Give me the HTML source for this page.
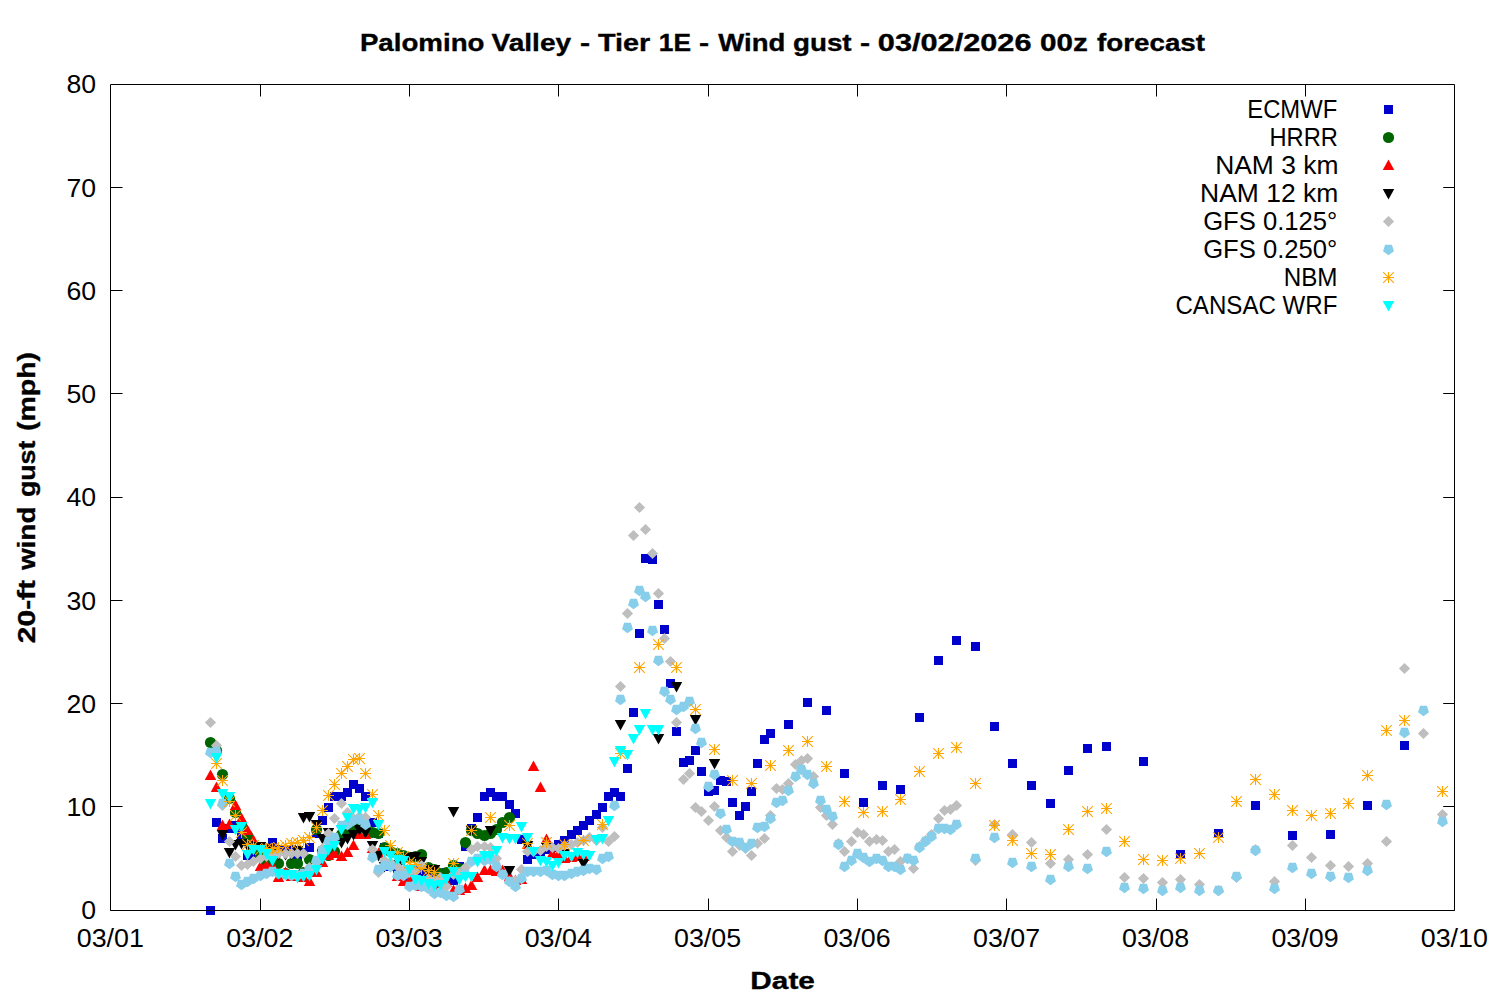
<!DOCTYPE html>
<html><head><meta charset="utf-8"><title>Wind gust forecast</title>
<style>html,body{margin:0;padding:0;background:#fff}svg{display:block}text{font-family:"Liberation Sans",sans-serif;fill:#000}</style></head><body>
<svg width="1500" height="1000" viewBox="0 0 1500 1000">
<rect width="1500" height="1000" fill="#fff"/>
<defs>
<rect id="sq" x="-4.5" y="-4.5" width="9" height="9"/>
<circle id="ci" r="5.6"/>
<polygon id="up" points="0,-5.95 5.75,4.45 -5.75,4.45"/>
<polygon id="dn" points="0,5.9 5.75,-4.5 -5.75,-4.5"/>
<polygon id="di" points="0,-5.6 5.6,0 0,5.6 -5.6,0"/>
<polygon id="pe" points="0.00,5.75 -5.47,1.78 -3.38,-4.65 3.38,-4.65 5.47,1.78"/>
<path id="st" d="M-5.5,0H5.5M0,-5.5V5.5M-5.3,-5.3L5.3,5.3M-5.3,5.3L5.3,-5.3" fill="none" stroke-width="1.08"/>
</defs>
<g fill="#0000cd">
<use href="#sq" x="210.5" y="910.5"/>
<use href="#sq" x="216.5" y="822.5"/>
<use href="#sq" x="222.5" y="838.5"/>
<use href="#sq" x="229.5" y="828.5"/>
<use href="#sq" x="235.5" y="825.5"/>
<use href="#sq" x="241.5" y="834.5"/>
<use href="#sq" x="247.5" y="855.5"/>
<use href="#sq" x="253.5" y="852.5"/>
<use href="#sq" x="260.5" y="850.5"/>
<use href="#sq" x="266.5" y="848.5"/>
<use href="#sq" x="272.5" y="842.5"/>
<use href="#sq" x="278.5" y="849.5"/>
<use href="#sq" x="285.5" y="849.5"/>
<use href="#sq" x="291.5" y="849.5"/>
<use href="#sq" x="297.5" y="858.5"/>
<use href="#sq" x="303.5" y="852.5"/>
<use href="#sq" x="309.5" y="847.5"/>
<use href="#sq" x="316.5" y="833.5"/>
<use href="#sq" x="322.5" y="820.5"/>
<use href="#sq" x="328.5" y="807.5"/>
<use href="#sq" x="334.5" y="796.5"/>
<use href="#sq" x="341.5" y="796.5"/>
<use href="#sq" x="347.5" y="792.5"/>
<use href="#sq" x="353.5" y="784.5"/>
<use href="#sq" x="359.5" y="788.5"/>
<use href="#sq" x="365.5" y="796.5"/>
<use href="#sq" x="372.5" y="822.5"/>
<use href="#sq" x="378.5" y="833.5"/>
<use href="#sq" x="384.5" y="847.5"/>
<use href="#sq" x="390.5" y="866.5"/>
<use href="#sq" x="397.5" y="868.5"/>
<use href="#sq" x="403.5" y="876.5"/>
<use href="#sq" x="409.5" y="879.5"/>
<use href="#sq" x="415.5" y="870.5"/>
<use href="#sq" x="421.5" y="872.5"/>
<use href="#sq" x="428.5" y="874.5"/>
<use href="#sq" x="434.5" y="876.5"/>
<use href="#sq" x="440.5" y="874.5"/>
<use href="#sq" x="446.5" y="872.5"/>
<use href="#sq" x="453.5" y="880.5"/>
<use href="#sq" x="459.5" y="866.5"/>
<use href="#sq" x="465.5" y="846.5"/>
<use href="#sq" x="471.5" y="828.5"/>
<use href="#sq" x="477.5" y="817.5"/>
<use href="#sq" x="484.5" y="796.5"/>
<use href="#sq" x="490.5" y="792.5"/>
<use href="#sq" x="496.5" y="796.5"/>
<use href="#sq" x="502.5" y="796.5"/>
<use href="#sq" x="509.5" y="804.5"/>
<use href="#sq" x="515.5" y="813.5"/>
<use href="#sq" x="521.5" y="839.5"/>
<use href="#sq" x="527.5" y="859.5"/>
<use href="#sq" x="533.5" y="854.5"/>
<use href="#sq" x="540.5" y="851.5"/>
<use href="#sq" x="546.5" y="849.5"/>
<use href="#sq" x="552.5" y="847.5"/>
<use href="#sq" x="558.5" y="844.5"/>
<use href="#sq" x="564.5" y="840.5"/>
<use href="#sq" x="571.5" y="834.5"/>
<use href="#sq" x="577.5" y="830.5"/>
<use href="#sq" x="583.5" y="825.5"/>
<use href="#sq" x="589.5" y="820.5"/>
<use href="#sq" x="596.5" y="814.5"/>
<use href="#sq" x="602.5" y="807.5"/>
<use href="#sq" x="608.5" y="796.5"/>
<use href="#sq" x="614.5" y="792.5"/>
<use href="#sq" x="620.5" y="796.5"/>
<use href="#sq" x="627.5" y="768.5"/>
<use href="#sq" x="633.5" y="712.5"/>
<use href="#sq" x="639.5" y="633.5"/>
<use href="#sq" x="645.5" y="558.5"/>
<use href="#sq" x="652.5" y="559.5"/>
<use href="#sq" x="658.5" y="604.5"/>
<use href="#sq" x="664.5" y="629.5"/>
<use href="#sq" x="670.5" y="683.5"/>
<use href="#sq" x="676.5" y="731.5"/>
<use href="#sq" x="683.5" y="762.5"/>
<use href="#sq" x="689.5" y="760.5"/>
<use href="#sq" x="695.5" y="750.5"/>
<use href="#sq" x="701.5" y="771.5"/>
<use href="#sq" x="708.5" y="791.5"/>
<use href="#sq" x="714.5" y="790.5"/>
<use href="#sq" x="720.5" y="780.5"/>
<use href="#sq" x="726.5" y="781.5"/>
<use href="#sq" x="732.5" y="802.5"/>
<use href="#sq" x="739.5" y="815.5"/>
<use href="#sq" x="745.5" y="806.5"/>
<use href="#sq" x="751.5" y="791.5"/>
<use href="#sq" x="757.5" y="763.5"/>
<use href="#sq" x="764.5" y="739.5"/>
<use href="#sq" x="770.5" y="733.5"/>
<use href="#sq" x="788.5" y="724.5"/>
<use href="#sq" x="807.5" y="702.5"/>
<use href="#sq" x="826.5" y="710.5"/>
<use href="#sq" x="844.5" y="773.5"/>
<use href="#sq" x="863.5" y="802.5"/>
<use href="#sq" x="882.5" y="785.5"/>
<use href="#sq" x="900.5" y="789.5"/>
<use href="#sq" x="919.5" y="717.5"/>
<use href="#sq" x="938.5" y="660.5"/>
<use href="#sq" x="956.5" y="640.5"/>
<use href="#sq" x="975.5" y="646.5"/>
<use href="#sq" x="994.5" y="726.5"/>
<use href="#sq" x="1012.5" y="763.5"/>
<use href="#sq" x="1031.5" y="785.5"/>
<use href="#sq" x="1050.5" y="803.5"/>
<use href="#sq" x="1068.5" y="770.5"/>
<use href="#sq" x="1087.5" y="748.5"/>
<use href="#sq" x="1106.5" y="746.5"/>
<use href="#sq" x="1143.5" y="761.5"/>
<use href="#sq" x="1180.5" y="854.5"/>
<use href="#sq" x="1218.5" y="833.5"/>
<use href="#sq" x="1255.5" y="805.5"/>
<use href="#sq" x="1292.5" y="835.5"/>
<use href="#sq" x="1330.5" y="834.5"/>
<use href="#sq" x="1367.5" y="805.5"/>
<use href="#sq" x="1404.5" y="745.5"/>
</g>
<g fill="#006400">
<use href="#ci" x="210.5" y="742.5"/>
<use href="#ci" x="216.5" y="750.5"/>
<use href="#ci" x="222.5" y="774.5"/>
<use href="#ci" x="229.5" y="798.5"/>
<use href="#ci" x="235.5" y="812.5"/>
<use href="#ci" x="241.5" y="824.5"/>
<use href="#ci" x="247.5" y="835.5"/>
<use href="#ci" x="253.5" y="848.5"/>
<use href="#ci" x="260.5" y="856.5"/>
<use href="#ci" x="266.5" y="862.5"/>
<use href="#ci" x="272.5" y="866.5"/>
<use href="#ci" x="278.5" y="863.5"/>
<use href="#ci" x="285.5" y="873.5"/>
<use href="#ci" x="291.5" y="863.5"/>
<use href="#ci" x="297.5" y="863.5"/>
<use href="#ci" x="303.5" y="872.5"/>
<use href="#ci" x="309.5" y="859.5"/>
<use href="#ci" x="316.5" y="829.5"/>
<use href="#ci" x="322.5" y="850.5"/>
<use href="#ci" x="328.5" y="855.5"/>
<use href="#ci" x="334.5" y="851.5"/>
<use href="#ci" x="341.5" y="834.5"/>
<use href="#ci" x="347.5" y="833.5"/>
<use href="#ci" x="353.5" y="826.5"/>
<use href="#ci" x="359.5" y="826.5"/>
<use href="#ci" x="365.5" y="828.5"/>
<use href="#ci" x="372.5" y="832.5"/>
<use href="#ci" x="378.5" y="833.5"/>
<use href="#ci" x="384.5" y="847.5"/>
<use href="#ci" x="390.5" y="851.5"/>
<use href="#ci" x="397.5" y="853.5"/>
<use href="#ci" x="403.5" y="855.5"/>
<use href="#ci" x="409.5" y="857.5"/>
<use href="#ci" x="415.5" y="856.5"/>
<use href="#ci" x="421.5" y="854.5"/>
<use href="#ci" x="428.5" y="867.5"/>
<use href="#ci" x="434.5" y="869.5"/>
<use href="#ci" x="440.5" y="873.5"/>
<use href="#ci" x="446.5" y="872.5"/>
<use href="#ci" x="453.5" y="865.5"/>
<use href="#ci" x="459.5" y="868.5"/>
<use href="#ci" x="465.5" y="842.5"/>
<use href="#ci" x="471.5" y="830.5"/>
<use href="#ci" x="477.5" y="833.5"/>
<use href="#ci" x="484.5" y="835.5"/>
<use href="#ci" x="490.5" y="833.5"/>
<use href="#ci" x="496.5" y="829.5"/>
<use href="#ci" x="502.5" y="822.5"/>
<use href="#ci" x="509.5" y="817.5"/>
</g>
<g fill="#ff0000">
<use href="#up" x="210.5" y="775.5"/>
<use href="#up" x="216.5" y="787.5"/>
<use href="#up" x="222.5" y="825.5"/>
<use href="#up" x="229.5" y="824.5"/>
<use href="#up" x="235.5" y="805.5"/>
<use href="#up" x="241.5" y="818.5"/>
<use href="#up" x="247.5" y="830.5"/>
<use href="#up" x="253.5" y="840.5"/>
<use href="#up" x="260.5" y="866.5"/>
<use href="#up" x="266.5" y="865.5"/>
<use href="#up" x="272.5" y="866.5"/>
<use href="#up" x="278.5" y="877.5"/>
<use href="#up" x="285.5" y="872.5"/>
<use href="#up" x="291.5" y="876.5"/>
<use href="#up" x="297.5" y="876.5"/>
<use href="#up" x="303.5" y="877.5"/>
<use href="#up" x="309.5" y="881.5"/>
<use href="#up" x="316.5" y="872.5"/>
<use href="#up" x="322.5" y="862.5"/>
<use href="#up" x="328.5" y="855.5"/>
<use href="#up" x="334.5" y="853.5"/>
<use href="#up" x="341.5" y="856.5"/>
<use href="#up" x="347.5" y="852.5"/>
<use href="#up" x="353.5" y="845.5"/>
<use href="#up" x="359.5" y="834.5"/>
<use href="#up" x="365.5" y="834.5"/>
<use href="#up" x="372.5" y="848.5"/>
<use href="#up" x="378.5" y="853.5"/>
<use href="#up" x="384.5" y="862.5"/>
<use href="#up" x="390.5" y="864.5"/>
<use href="#up" x="397.5" y="876.5"/>
<use href="#up" x="403.5" y="881.5"/>
<use href="#up" x="409.5" y="880.5"/>
<use href="#up" x="415.5" y="884.5"/>
<use href="#up" x="421.5" y="886.5"/>
<use href="#up" x="428.5" y="884.5"/>
<use href="#up" x="434.5" y="886.5"/>
<use href="#up" x="440.5" y="884.5"/>
<use href="#up" x="446.5" y="882.5"/>
<use href="#up" x="453.5" y="890.5"/>
<use href="#up" x="459.5" y="890.5"/>
<use href="#up" x="465.5" y="888.5"/>
<use href="#up" x="471.5" y="885.5"/>
<use href="#up" x="477.5" y="877.5"/>
<use href="#up" x="484.5" y="870.5"/>
<use href="#up" x="490.5" y="870.5"/>
<use href="#up" x="496.5" y="871.5"/>
<use href="#up" x="502.5" y="870.5"/>
<use href="#up" x="509.5" y="876.5"/>
<use href="#up" x="515.5" y="880.5"/>
<use href="#up" x="521.5" y="879.5"/>
<use href="#up" x="527.5" y="844.5"/>
<use href="#up" x="533.5" y="766.5"/>
<use href="#up" x="540.5" y="787.5"/>
<use href="#up" x="546.5" y="839.5"/>
<use href="#up" x="552.5" y="853.5"/>
<use href="#up" x="558.5" y="854.5"/>
<use href="#up" x="564.5" y="858.5"/>
<use href="#up" x="571.5" y="857.5"/>
<use href="#up" x="577.5" y="856.5"/>
<use href="#up" x="583.5" y="856.5"/>
</g>
<g fill="#000000">
<use href="#dn" x="216.5" y="756.5"/>
<use href="#dn" x="222.5" y="834.5"/>
<use href="#dn" x="229.5" y="852.5"/>
<use href="#dn" x="235.5" y="844.5"/>
<use href="#dn" x="241.5" y="843.5"/>
<use href="#dn" x="247.5" y="845.5"/>
<use href="#dn" x="253.5" y="846.5"/>
<use href="#dn" x="260.5" y="846.5"/>
<use href="#dn" x="266.5" y="848.5"/>
<use href="#dn" x="272.5" y="851.5"/>
<use href="#dn" x="278.5" y="854.5"/>
<use href="#dn" x="285.5" y="854.5"/>
<use href="#dn" x="291.5" y="854.5"/>
<use href="#dn" x="297.5" y="850.5"/>
<use href="#dn" x="303.5" y="817.5"/>
<use href="#dn" x="309.5" y="816.5"/>
<use href="#dn" x="316.5" y="824.5"/>
<use href="#dn" x="322.5" y="838.5"/>
<use href="#dn" x="328.5" y="832.5"/>
<use href="#dn" x="334.5" y="842.5"/>
<use href="#dn" x="341.5" y="842.5"/>
<use href="#dn" x="347.5" y="838.5"/>
<use href="#dn" x="353.5" y="834.5"/>
<use href="#dn" x="359.5" y="829.5"/>
<use href="#dn" x="365.5" y="832.5"/>
<use href="#dn" x="372.5" y="845.5"/>
<use href="#dn" x="378.5" y="855.5"/>
<use href="#dn" x="384.5" y="866.5"/>
<use href="#dn" x="390.5" y="866.5"/>
<use href="#dn" x="397.5" y="864.5"/>
<use href="#dn" x="403.5" y="860.5"/>
<use href="#dn" x="409.5" y="857.5"/>
<use href="#dn" x="415.5" y="856.5"/>
<use href="#dn" x="421.5" y="861.5"/>
<use href="#dn" x="428.5" y="869.5"/>
<use href="#dn" x="434.5" y="869.5"/>
<use href="#dn" x="453.5" y="811.5"/>
<use href="#dn" x="471.5" y="830.5"/>
<use href="#dn" x="490.5" y="830.5"/>
<use href="#dn" x="509.5" y="870.5"/>
<use href="#dn" x="527.5" y="845.5"/>
<use href="#dn" x="546.5" y="846.5"/>
<use href="#dn" x="564.5" y="853.5"/>
<use href="#dn" x="583.5" y="863.5"/>
<use href="#dn" x="620.5" y="724.5"/>
<use href="#dn" x="658.5" y="738.5"/>
<use href="#dn" x="676.5" y="686.5"/>
<use href="#dn" x="695.5" y="719.5"/>
<use href="#dn" x="714.5" y="763.5"/>
</g>
<g fill="#bebebe">
<use href="#di" x="210.5" y="722.5"/>
<use href="#di" x="216.5" y="745.5"/>
<use href="#di" x="222.5" y="805.5"/>
<use href="#di" x="229.5" y="841.5"/>
<use href="#di" x="235.5" y="856.5"/>
<use href="#di" x="241.5" y="865.5"/>
<use href="#di" x="247.5" y="864.5"/>
<use href="#di" x="253.5" y="861.5"/>
<use href="#di" x="260.5" y="858.5"/>
<use href="#di" x="266.5" y="856.5"/>
<use href="#di" x="272.5" y="853.5"/>
<use href="#di" x="278.5" y="853.5"/>
<use href="#di" x="285.5" y="853.5"/>
<use href="#di" x="291.5" y="853.5"/>
<use href="#di" x="297.5" y="853.5"/>
<use href="#di" x="303.5" y="853.5"/>
<use href="#di" x="309.5" y="867.5"/>
<use href="#di" x="316.5" y="862.5"/>
<use href="#di" x="322.5" y="848.5"/>
<use href="#di" x="328.5" y="833.5"/>
<use href="#di" x="334.5" y="818.5"/>
<use href="#di" x="341.5" y="803.5"/>
<use href="#di" x="347.5" y="812.5"/>
<use href="#di" x="353.5" y="818.5"/>
<use href="#di" x="359.5" y="816.5"/>
<use href="#di" x="365.5" y="817.5"/>
<use href="#di" x="372.5" y="849.5"/>
<use href="#di" x="378.5" y="872.5"/>
<use href="#di" x="384.5" y="860.5"/>
<use href="#di" x="390.5" y="862.5"/>
<use href="#di" x="397.5" y="866.5"/>
<use href="#di" x="403.5" y="870.5"/>
<use href="#di" x="409.5" y="872.5"/>
<use href="#di" x="415.5" y="871.5"/>
<use href="#di" x="421.5" y="865.5"/>
<use href="#di" x="428.5" y="878.5"/>
<use href="#di" x="434.5" y="880.5"/>
<use href="#di" x="440.5" y="877.5"/>
<use href="#di" x="446.5" y="886.5"/>
<use href="#di" x="453.5" y="874.5"/>
<use href="#di" x="459.5" y="872.5"/>
<use href="#di" x="465.5" y="867.5"/>
<use href="#di" x="471.5" y="849.5"/>
<use href="#di" x="477.5" y="846.5"/>
<use href="#di" x="484.5" y="846.5"/>
<use href="#di" x="490.5" y="847.5"/>
<use href="#di" x="496.5" y="858.5"/>
<use href="#di" x="502.5" y="874.5"/>
<use href="#di" x="509.5" y="881.5"/>
<use href="#di" x="515.5" y="880.5"/>
<use href="#di" x="521.5" y="869.5"/>
<use href="#di" x="527.5" y="851.5"/>
<use href="#di" x="533.5" y="851.5"/>
<use href="#di" x="540.5" y="850.5"/>
<use href="#di" x="546.5" y="846.5"/>
<use href="#di" x="552.5" y="847.5"/>
<use href="#di" x="558.5" y="848.5"/>
<use href="#di" x="564.5" y="845.5"/>
<use href="#di" x="571.5" y="844.5"/>
<use href="#di" x="577.5" y="842.5"/>
<use href="#di" x="583.5" y="840.5"/>
<use href="#di" x="589.5" y="837.5"/>
<use href="#di" x="596.5" y="840.5"/>
<use href="#di" x="602.5" y="827.5"/>
<use href="#di" x="608.5" y="841.5"/>
<use href="#di" x="614.5" y="836.5"/>
<use href="#di" x="620.5" y="686.5"/>
<use href="#di" x="627.5" y="613.5"/>
<use href="#di" x="633.5" y="535.5"/>
<use href="#di" x="639.5" y="507.5"/>
<use href="#di" x="645.5" y="529.5"/>
<use href="#di" x="652.5" y="553.5"/>
<use href="#di" x="658.5" y="593.5"/>
<use href="#di" x="664.5" y="638.5"/>
<use href="#di" x="670.5" y="661.5"/>
<use href="#di" x="676.5" y="722.5"/>
<use href="#di" x="683.5" y="779.5"/>
<use href="#di" x="689.5" y="773.5"/>
<use href="#di" x="695.5" y="807.5"/>
<use href="#di" x="701.5" y="811.5"/>
<use href="#di" x="708.5" y="820.5"/>
<use href="#di" x="714.5" y="806.5"/>
<use href="#di" x="720.5" y="830.5"/>
<use href="#di" x="726.5" y="837.5"/>
<use href="#di" x="732.5" y="851.5"/>
<use href="#di" x="739.5" y="845.5"/>
<use href="#di" x="745.5" y="848.5"/>
<use href="#di" x="751.5" y="855.5"/>
<use href="#di" x="757.5" y="843.5"/>
<use href="#di" x="764.5" y="838.5"/>
<use href="#di" x="770.5" y="815.5"/>
<use href="#di" x="776.5" y="788.5"/>
<use href="#di" x="782.5" y="789.5"/>
<use href="#di" x="788.5" y="783.5"/>
<use href="#di" x="795.5" y="764.5"/>
<use href="#di" x="801.5" y="760.5"/>
<use href="#di" x="807.5" y="758.5"/>
<use href="#di" x="813.5" y="776.5"/>
<use href="#di" x="820.5" y="807.5"/>
<use href="#di" x="826.5" y="815.5"/>
<use href="#di" x="832.5" y="824.5"/>
<use href="#di" x="838.5" y="843.5"/>
<use href="#di" x="844.5" y="851.5"/>
<use href="#di" x="851.5" y="841.5"/>
<use href="#di" x="857.5" y="832.5"/>
<use href="#di" x="863.5" y="834.5"/>
<use href="#di" x="869.5" y="841.5"/>
<use href="#di" x="876.5" y="839.5"/>
<use href="#di" x="882.5" y="840.5"/>
<use href="#di" x="888.5" y="851.5"/>
<use href="#di" x="894.5" y="849.5"/>
<use href="#di" x="900.5" y="861.5"/>
<use href="#di" x="907.5" y="858.5"/>
<use href="#di" x="913.5" y="868.5"/>
<use href="#di" x="919.5" y="846.5"/>
<use href="#di" x="925.5" y="840.5"/>
<use href="#di" x="931.5" y="834.5"/>
<use href="#di" x="938.5" y="818.5"/>
<use href="#di" x="944.5" y="810.5"/>
<use href="#di" x="950.5" y="809.5"/>
<use href="#di" x="956.5" y="805.5"/>
<use href="#di" x="975.5" y="860.5"/>
<use href="#di" x="994.5" y="824.5"/>
<use href="#di" x="1012.5" y="834.5"/>
<use href="#di" x="1031.5" y="842.5"/>
<use href="#di" x="1050.5" y="863.5"/>
<use href="#di" x="1068.5" y="859.5"/>
<use href="#di" x="1087.5" y="854.5"/>
<use href="#di" x="1106.5" y="829.5"/>
<use href="#di" x="1124.5" y="877.5"/>
<use href="#di" x="1143.5" y="878.5"/>
<use href="#di" x="1162.5" y="882.5"/>
<use href="#di" x="1180.5" y="879.5"/>
<use href="#di" x="1199.5" y="884.5"/>
<use href="#di" x="1218.5" y="890.5"/>
<use href="#di" x="1236.5" y="877.5"/>
<use href="#di" x="1255.5" y="849.5"/>
<use href="#di" x="1274.5" y="881.5"/>
<use href="#di" x="1292.5" y="845.5"/>
<use href="#di" x="1311.5" y="857.5"/>
<use href="#di" x="1330.5" y="865.5"/>
<use href="#di" x="1348.5" y="866.5"/>
<use href="#di" x="1367.5" y="863.5"/>
<use href="#di" x="1386.5" y="841.5"/>
<use href="#di" x="1404.5" y="668.5"/>
<use href="#di" x="1423.5" y="733.5"/>
<use href="#di" x="1442.5" y="814.5"/>
</g>
<g fill="#87ceeb">
<use href="#pe" x="210.5" y="752.5"/>
<use href="#pe" x="216.5" y="751.5"/>
<use href="#pe" x="222.5" y="803.5"/>
<use href="#pe" x="229.5" y="863.5"/>
<use href="#pe" x="235.5" y="876.5"/>
<use href="#pe" x="241.5" y="884.5"/>
<use href="#pe" x="247.5" y="881.5"/>
<use href="#pe" x="253.5" y="878.5"/>
<use href="#pe" x="260.5" y="875.5"/>
<use href="#pe" x="266.5" y="873.5"/>
<use href="#pe" x="272.5" y="871.5"/>
<use href="#pe" x="278.5" y="873.5"/>
<use href="#pe" x="285.5" y="874.5"/>
<use href="#pe" x="291.5" y="875.5"/>
<use href="#pe" x="297.5" y="875.5"/>
<use href="#pe" x="303.5" y="873.5"/>
<use href="#pe" x="309.5" y="869.5"/>
<use href="#pe" x="316.5" y="860.5"/>
<use href="#pe" x="322.5" y="851.5"/>
<use href="#pe" x="328.5" y="841.5"/>
<use href="#pe" x="334.5" y="837.5"/>
<use href="#pe" x="341.5" y="825.5"/>
<use href="#pe" x="347.5" y="824.5"/>
<use href="#pe" x="353.5" y="820.5"/>
<use href="#pe" x="359.5" y="819.5"/>
<use href="#pe" x="365.5" y="824.5"/>
<use href="#pe" x="372.5" y="857.5"/>
<use href="#pe" x="378.5" y="869.5"/>
<use href="#pe" x="384.5" y="865.5"/>
<use href="#pe" x="390.5" y="866.5"/>
<use href="#pe" x="397.5" y="875.5"/>
<use href="#pe" x="403.5" y="875.5"/>
<use href="#pe" x="409.5" y="886.5"/>
<use href="#pe" x="415.5" y="885.5"/>
<use href="#pe" x="421.5" y="886.5"/>
<use href="#pe" x="428.5" y="888.5"/>
<use href="#pe" x="434.5" y="893.5"/>
<use href="#pe" x="440.5" y="892.5"/>
<use href="#pe" x="446.5" y="895.5"/>
<use href="#pe" x="453.5" y="896.5"/>
<use href="#pe" x="459.5" y="889.5"/>
<use href="#pe" x="465.5" y="874.5"/>
<use href="#pe" x="471.5" y="861.5"/>
<use href="#pe" x="477.5" y="858.5"/>
<use href="#pe" x="484.5" y="860.5"/>
<use href="#pe" x="490.5" y="859.5"/>
<use href="#pe" x="496.5" y="866.5"/>
<use href="#pe" x="502.5" y="874.5"/>
<use href="#pe" x="509.5" y="881.5"/>
<use href="#pe" x="515.5" y="886.5"/>
<use href="#pe" x="521.5" y="878.5"/>
<use href="#pe" x="527.5" y="871.5"/>
<use href="#pe" x="533.5" y="871.5"/>
<use href="#pe" x="540.5" y="871.5"/>
<use href="#pe" x="546.5" y="870.5"/>
<use href="#pe" x="552.5" y="874.5"/>
<use href="#pe" x="558.5" y="875.5"/>
<use href="#pe" x="564.5" y="875.5"/>
<use href="#pe" x="571.5" y="873.5"/>
<use href="#pe" x="577.5" y="871.5"/>
<use href="#pe" x="583.5" y="870.5"/>
<use href="#pe" x="589.5" y="868.5"/>
<use href="#pe" x="596.5" y="869.5"/>
<use href="#pe" x="602.5" y="858.5"/>
<use href="#pe" x="608.5" y="856.5"/>
<use href="#pe" x="614.5" y="805.5"/>
<use href="#pe" x="620.5" y="699.5"/>
<use href="#pe" x="627.5" y="627.5"/>
<use href="#pe" x="633.5" y="603.5"/>
<use href="#pe" x="639.5" y="590.5"/>
<use href="#pe" x="645.5" y="596.5"/>
<use href="#pe" x="652.5" y="630.5"/>
<use href="#pe" x="658.5" y="660.5"/>
<use href="#pe" x="664.5" y="691.5"/>
<use href="#pe" x="670.5" y="699.5"/>
<use href="#pe" x="676.5" y="709.5"/>
<use href="#pe" x="683.5" y="706.5"/>
<use href="#pe" x="689.5" y="701.5"/>
<use href="#pe" x="695.5" y="728.5"/>
<use href="#pe" x="701.5" y="742.5"/>
<use href="#pe" x="708.5" y="786.5"/>
<use href="#pe" x="714.5" y="774.5"/>
<use href="#pe" x="720.5" y="813.5"/>
<use href="#pe" x="726.5" y="829.5"/>
<use href="#pe" x="732.5" y="841.5"/>
<use href="#pe" x="739.5" y="842.5"/>
<use href="#pe" x="745.5" y="847.5"/>
<use href="#pe" x="751.5" y="843.5"/>
<use href="#pe" x="757.5" y="827.5"/>
<use href="#pe" x="764.5" y="826.5"/>
<use href="#pe" x="770.5" y="818.5"/>
<use href="#pe" x="776.5" y="802.5"/>
<use href="#pe" x="782.5" y="800.5"/>
<use href="#pe" x="788.5" y="790.5"/>
<use href="#pe" x="795.5" y="776.5"/>
<use href="#pe" x="801.5" y="769.5"/>
<use href="#pe" x="807.5" y="774.5"/>
<use href="#pe" x="813.5" y="783.5"/>
<use href="#pe" x="820.5" y="800.5"/>
<use href="#pe" x="826.5" y="809.5"/>
<use href="#pe" x="832.5" y="816.5"/>
<use href="#pe" x="838.5" y="844.5"/>
<use href="#pe" x="844.5" y="866.5"/>
<use href="#pe" x="851.5" y="860.5"/>
<use href="#pe" x="857.5" y="853.5"/>
<use href="#pe" x="863.5" y="857.5"/>
<use href="#pe" x="869.5" y="861.5"/>
<use href="#pe" x="876.5" y="858.5"/>
<use href="#pe" x="882.5" y="860.5"/>
<use href="#pe" x="888.5" y="866.5"/>
<use href="#pe" x="894.5" y="866.5"/>
<use href="#pe" x="900.5" y="869.5"/>
<use href="#pe" x="907.5" y="858.5"/>
<use href="#pe" x="913.5" y="860.5"/>
<use href="#pe" x="919.5" y="847.5"/>
<use href="#pe" x="925.5" y="841.5"/>
<use href="#pe" x="931.5" y="836.5"/>
<use href="#pe" x="938.5" y="828.5"/>
<use href="#pe" x="944.5" y="828.5"/>
<use href="#pe" x="950.5" y="829.5"/>
<use href="#pe" x="956.5" y="824.5"/>
<use href="#pe" x="975.5" y="858.5"/>
<use href="#pe" x="994.5" y="837.5"/>
<use href="#pe" x="1012.5" y="862.5"/>
<use href="#pe" x="1031.5" y="866.5"/>
<use href="#pe" x="1050.5" y="879.5"/>
<use href="#pe" x="1068.5" y="866.5"/>
<use href="#pe" x="1087.5" y="868.5"/>
<use href="#pe" x="1106.5" y="851.5"/>
<use href="#pe" x="1124.5" y="887.5"/>
<use href="#pe" x="1143.5" y="888.5"/>
<use href="#pe" x="1162.5" y="890.5"/>
<use href="#pe" x="1180.5" y="887.5"/>
<use href="#pe" x="1199.5" y="890.5"/>
<use href="#pe" x="1218.5" y="890.5"/>
<use href="#pe" x="1236.5" y="876.5"/>
<use href="#pe" x="1255.5" y="850.5"/>
<use href="#pe" x="1274.5" y="888.5"/>
<use href="#pe" x="1292.5" y="867.5"/>
<use href="#pe" x="1311.5" y="873.5"/>
<use href="#pe" x="1330.5" y="876.5"/>
<use href="#pe" x="1348.5" y="877.5"/>
<use href="#pe" x="1367.5" y="870.5"/>
<use href="#pe" x="1386.5" y="804.5"/>
<use href="#pe" x="1404.5" y="732.5"/>
<use href="#pe" x="1423.5" y="710.5"/>
<use href="#pe" x="1442.5" y="821.5"/>
</g>
<g stroke="#ffa500">
<use href="#st" x="216.5" y="763.5"/>
<use href="#st" x="222.5" y="780.5"/>
<use href="#st" x="229.5" y="801.5"/>
<use href="#st" x="235.5" y="815.5"/>
<use href="#st" x="241.5" y="832.5"/>
<use href="#st" x="247.5" y="844.5"/>
<use href="#st" x="253.5" y="845.5"/>
<use href="#st" x="260.5" y="849.5"/>
<use href="#st" x="266.5" y="848.5"/>
<use href="#st" x="272.5" y="848.5"/>
<use href="#st" x="278.5" y="847.5"/>
<use href="#st" x="285.5" y="845.5"/>
<use href="#st" x="291.5" y="843.5"/>
<use href="#st" x="297.5" y="842.5"/>
<use href="#st" x="303.5" y="840.5"/>
<use href="#st" x="309.5" y="837.5"/>
<use href="#st" x="316.5" y="827.5"/>
<use href="#st" x="322.5" y="810.5"/>
<use href="#st" x="328.5" y="795.5"/>
<use href="#st" x="334.5" y="784.5"/>
<use href="#st" x="341.5" y="773.5"/>
<use href="#st" x="347.5" y="766.5"/>
<use href="#st" x="353.5" y="759.5"/>
<use href="#st" x="359.5" y="758.5"/>
<use href="#st" x="365.5" y="773.5"/>
<use href="#st" x="372.5" y="794.5"/>
<use href="#st" x="378.5" y="815.5"/>
<use href="#st" x="384.5" y="830.5"/>
<use href="#st" x="390.5" y="845.5"/>
<use href="#st" x="397.5" y="852.5"/>
<use href="#st" x="403.5" y="856.5"/>
<use href="#st" x="409.5" y="862.5"/>
<use href="#st" x="415.5" y="864.5"/>
<use href="#st" x="421.5" y="868.5"/>
<use href="#st" x="428.5" y="870.5"/>
<use href="#st" x="434.5" y="872.5"/>
<use href="#st" x="453.5" y="863.5"/>
<use href="#st" x="471.5" y="830.5"/>
<use href="#st" x="490.5" y="817.5"/>
<use href="#st" x="509.5" y="825.5"/>
<use href="#st" x="527.5" y="843.5"/>
<use href="#st" x="546.5" y="842.5"/>
<use href="#st" x="564.5" y="844.5"/>
<use href="#st" x="583.5" y="840.5"/>
<use href="#st" x="602.5" y="824.5"/>
<use href="#st" x="620.5" y="753.5"/>
<use href="#st" x="639.5" y="667.5"/>
<use href="#st" x="658.5" y="644.5"/>
<use href="#st" x="676.5" y="667.5"/>
<use href="#st" x="695.5" y="709.5"/>
<use href="#st" x="714.5" y="749.5"/>
<use href="#st" x="732.5" y="780.5"/>
<use href="#st" x="751.5" y="783.5"/>
<use href="#st" x="770.5" y="765.5"/>
<use href="#st" x="788.5" y="750.5"/>
<use href="#st" x="807.5" y="741.5"/>
<use href="#st" x="826.5" y="766.5"/>
<use href="#st" x="844.5" y="801.5"/>
<use href="#st" x="863.5" y="812.5"/>
<use href="#st" x="882.5" y="811.5"/>
<use href="#st" x="900.5" y="799.5"/>
<use href="#st" x="919.5" y="771.5"/>
<use href="#st" x="938.5" y="753.5"/>
<use href="#st" x="956.5" y="747.5"/>
<use href="#st" x="975.5" y="783.5"/>
<use href="#st" x="994.5" y="825.5"/>
<use href="#st" x="1012.5" y="840.5"/>
<use href="#st" x="1031.5" y="853.5"/>
<use href="#st" x="1050.5" y="854.5"/>
<use href="#st" x="1068.5" y="829.5"/>
<use href="#st" x="1087.5" y="811.5"/>
<use href="#st" x="1106.5" y="808.5"/>
<use href="#st" x="1124.5" y="841.5"/>
<use href="#st" x="1143.5" y="859.5"/>
<use href="#st" x="1162.5" y="860.5"/>
<use href="#st" x="1180.5" y="858.5"/>
<use href="#st" x="1199.5" y="853.5"/>
<use href="#st" x="1218.5" y="837.5"/>
<use href="#st" x="1236.5" y="801.5"/>
<use href="#st" x="1255.5" y="779.5"/>
<use href="#st" x="1274.5" y="794.5"/>
<use href="#st" x="1292.5" y="810.5"/>
<use href="#st" x="1311.5" y="815.5"/>
<use href="#st" x="1330.5" y="813.5"/>
<use href="#st" x="1348.5" y="803.5"/>
<use href="#st" x="1367.5" y="775.5"/>
<use href="#st" x="1386.5" y="730.5"/>
<use href="#st" x="1404.5" y="720.5"/>
<use href="#st" x="1442.5" y="791.5"/>
</g>
<g fill="#00ffff">
<use href="#dn" x="210.5" y="803.5"/>
<use href="#dn" x="216.5" y="757.5"/>
<use href="#dn" x="222.5" y="793.5"/>
<use href="#dn" x="229.5" y="796.5"/>
<use href="#dn" x="235.5" y="829.5"/>
<use href="#dn" x="241.5" y="826.5"/>
<use href="#dn" x="247.5" y="854.5"/>
<use href="#dn" x="253.5" y="849.5"/>
<use href="#dn" x="260.5" y="849.5"/>
<use href="#dn" x="266.5" y="853.5"/>
<use href="#dn" x="272.5" y="860.5"/>
<use href="#dn" x="278.5" y="873.5"/>
<use href="#dn" x="285.5" y="874.5"/>
<use href="#dn" x="291.5" y="874.5"/>
<use href="#dn" x="297.5" y="877.5"/>
<use href="#dn" x="303.5" y="876.5"/>
<use href="#dn" x="309.5" y="875.5"/>
<use href="#dn" x="316.5" y="869.5"/>
<use href="#dn" x="322.5" y="858.5"/>
<use href="#dn" x="328.5" y="849.5"/>
<use href="#dn" x="334.5" y="845.5"/>
<use href="#dn" x="341.5" y="829.5"/>
<use href="#dn" x="347.5" y="817.5"/>
<use href="#dn" x="353.5" y="808.5"/>
<use href="#dn" x="359.5" y="809.5"/>
<use href="#dn" x="365.5" y="807.5"/>
<use href="#dn" x="372.5" y="802.5"/>
<use href="#dn" x="378.5" y="824.5"/>
<use href="#dn" x="384.5" y="851.5"/>
<use href="#dn" x="390.5" y="855.5"/>
<use href="#dn" x="397.5" y="859.5"/>
<use href="#dn" x="403.5" y="860.5"/>
<use href="#dn" x="409.5" y="869.5"/>
<use href="#dn" x="415.5" y="879.5"/>
<use href="#dn" x="421.5" y="880.5"/>
<use href="#dn" x="428.5" y="883.5"/>
<use href="#dn" x="434.5" y="885.5"/>
<use href="#dn" x="440.5" y="884.5"/>
<use href="#dn" x="446.5" y="878.5"/>
<use href="#dn" x="453.5" y="871.5"/>
<use href="#dn" x="459.5" y="879.5"/>
<use href="#dn" x="465.5" y="876.5"/>
<use href="#dn" x="471.5" y="876.5"/>
<use href="#dn" x="477.5" y="861.5"/>
<use href="#dn" x="484.5" y="855.5"/>
<use href="#dn" x="490.5" y="855.5"/>
<use href="#dn" x="496.5" y="850.5"/>
<use href="#dn" x="502.5" y="837.5"/>
<use href="#dn" x="509.5" y="838.5"/>
<use href="#dn" x="515.5" y="838.5"/>
<use href="#dn" x="521.5" y="826.5"/>
<use href="#dn" x="527.5" y="837.5"/>
<use href="#dn" x="533.5" y="851.5"/>
<use href="#dn" x="540.5" y="860.5"/>
<use href="#dn" x="546.5" y="861.5"/>
<use href="#dn" x="552.5" y="865.5"/>
<use href="#dn" x="558.5" y="862.5"/>
<use href="#dn" x="564.5" y="855.5"/>
<use href="#dn" x="571.5" y="856.5"/>
<use href="#dn" x="577.5" y="852.5"/>
<use href="#dn" x="583.5" y="854.5"/>
<use href="#dn" x="589.5" y="855.5"/>
<use href="#dn" x="596.5" y="839.5"/>
<use href="#dn" x="602.5" y="838.5"/>
<use href="#dn" x="608.5" y="820.5"/>
<use href="#dn" x="614.5" y="761.5"/>
<use href="#dn" x="620.5" y="750.5"/>
<use href="#dn" x="627.5" y="754.5"/>
<use href="#dn" x="633.5" y="738.5"/>
<use href="#dn" x="639.5" y="729.5"/>
<use href="#dn" x="645.5" y="713.5"/>
<use href="#dn" x="652.5" y="729.5"/>
<use href="#dn" x="658.5" y="729.5"/>
</g>
<path d="M110.5,84.5H1454.5V910.5H110.5ZM260.5,910.5v-12M260.5,84.5v12M409.5,910.5v-12M409.5,84.5v12M558.5,910.5v-12M558.5,84.5v12M708.5,910.5v-12M708.5,84.5v12M857.5,910.5v-12M857.5,84.5v12M1006.5,910.5v-12M1006.5,84.5v12M1156.5,910.5v-12M1156.5,84.5v12M1305.5,910.5v-12M1305.5,84.5v12M110.5,910.5h12M1454.5,910.5h-11.3M110.5,806.5h12M1454.5,806.5h-11.3M110.5,703.5h12M1454.5,703.5h-11.3M110.5,600.5h12M1454.5,600.5h-11.3M110.5,497.5h12M1454.5,497.5h-11.3M110.5,393.5h12M1454.5,393.5h-11.3M110.5,290.5h12M1454.5,290.5h-11.3M110.5,187.5h12M1454.5,187.5h-11.3" fill="none" stroke="#000" stroke-width="1"/>
<text x="359.92" y="51.3" font-size="24.0" font-weight="bold" stroke="#000" stroke-width="0.35" textLength="124.58" lengthAdjust="spacingAndGlyphs">Palomino</text>
<text x="491.51" y="51.3" font-size="24.0" font-weight="bold" stroke="#000" stroke-width="0.35" textLength="79.67" lengthAdjust="spacingAndGlyphs">Valley</text>
<text x="579.93" y="51.3" font-size="24.0" font-weight="bold" stroke="#000" stroke-width="0.35" textLength="10.11" lengthAdjust="spacingAndGlyphs">-</text>
<text x="598.04" y="51.3" font-size="24.0" font-weight="bold" stroke="#000" stroke-width="0.35" textLength="52.27" lengthAdjust="spacingAndGlyphs">Tier</text>
<text x="658.81" y="51.3" font-size="24.0" font-weight="bold" stroke="#000" stroke-width="0.35" textLength="32.21" lengthAdjust="spacingAndGlyphs">1E</text>
<text x="698.93" y="51.3" font-size="24.0" font-weight="bold" stroke="#000" stroke-width="0.35" textLength="10.11" lengthAdjust="spacingAndGlyphs">-</text>
<text x="718.27" y="51.3" font-size="24.0" font-weight="bold" stroke="#000" stroke-width="0.35" textLength="67.09" lengthAdjust="spacingAndGlyphs">Wind</text>
<text x="792.95" y="51.3" font-size="24.0" font-weight="bold" stroke="#000" stroke-width="0.35" textLength="58.66" lengthAdjust="spacingAndGlyphs">gust</text>
<text x="859.93" y="51.3" font-size="24.0" font-weight="bold" stroke="#000" stroke-width="0.35" textLength="10.11" lengthAdjust="spacingAndGlyphs">-</text>
<text x="877.88" y="51.3" font-size="24.0" font-weight="bold" stroke="#000" stroke-width="0.35" textLength="153.65" lengthAdjust="spacingAndGlyphs">03/02/2026</text>
<text x="1040.12" y="51.3" font-size="24.0" font-weight="bold" stroke="#000" stroke-width="0.35" textLength="47.81" lengthAdjust="spacingAndGlyphs">00z</text>
<text x="1097.01" y="51.3" font-size="24.0" font-weight="bold" stroke="#000" stroke-width="0.35" textLength="108.05" lengthAdjust="spacingAndGlyphs">forecast</text>
<text x="750.38" y="988.8" font-size="24.0" font-weight="bold" stroke="#000" stroke-width="0.35" textLength="64.45" lengthAdjust="spacingAndGlyphs">Date</text>
<text transform="translate(35.2,643.19) rotate(-90)" font-size="24.0" font-weight="bold" stroke="#000" stroke-width="0.35" textLength="63.27" lengthAdjust="spacingAndGlyphs">20-ft</text>
<text transform="translate(35.2,570.10) rotate(-90)" font-size="24.0" font-weight="bold" stroke="#000" stroke-width="0.35" textLength="63.57" lengthAdjust="spacingAndGlyphs">wind</text>
<text transform="translate(35.2,497.11) rotate(-90)" font-size="24.0" font-weight="bold" stroke="#000" stroke-width="0.35" textLength="56.43" lengthAdjust="spacingAndGlyphs">gust</text>
<text transform="translate(35.2,431.04) rotate(-90)" font-size="24.0" font-weight="bold" stroke="#000" stroke-width="0.35" textLength="79.05" lengthAdjust="spacingAndGlyphs">(mph)</text>
<text x="1247.28" y="118.1" font-size="25.0" textLength="89.91" lengthAdjust="spacingAndGlyphs">ECMWF</text>
<text x="1269.49" y="146.1" font-size="25.0" textLength="68.37" lengthAdjust="spacingAndGlyphs">HRRR</text>
<text x="1215.18" y="174.1" font-size="25.0" textLength="123.25" lengthAdjust="spacingAndGlyphs">NAM 3 km</text>
<text x="1200.08" y="202.1" font-size="25.0" textLength="138.26" lengthAdjust="spacingAndGlyphs">NAM 12 km</text>
<text x="1203.21" y="230.1" font-size="25.0" textLength="134.11" lengthAdjust="spacingAndGlyphs">GFS 0.125°</text>
<text x="1203.21" y="258.1" font-size="25.0" textLength="134.11" lengthAdjust="spacingAndGlyphs">GFS 0.250°</text>
<text x="1283.65" y="286.1" font-size="25.0" textLength="53.85" lengthAdjust="spacingAndGlyphs">NBM</text>
<text x="1175.47" y="314.1" font-size="25.0" textLength="161.99" lengthAdjust="spacingAndGlyphs">CANSAC WRF</text>
<text x="81.32" y="919.3" font-size="25.0" textLength="14.82" lengthAdjust="spacingAndGlyphs">0</text>
<text x="66.41" y="816.0" font-size="25.0" textLength="29.64" lengthAdjust="spacingAndGlyphs">10</text>
<text x="66.41" y="712.8" font-size="25.0" textLength="29.64" lengthAdjust="spacingAndGlyphs">20</text>
<text x="66.41" y="609.5" font-size="25.0" textLength="29.64" lengthAdjust="spacingAndGlyphs">30</text>
<text x="66.41" y="506.3" font-size="25.0" textLength="29.64" lengthAdjust="spacingAndGlyphs">40</text>
<text x="66.41" y="403.1" font-size="25.0" textLength="29.64" lengthAdjust="spacingAndGlyphs">50</text>
<text x="66.41" y="299.8" font-size="25.0" textLength="29.64" lengthAdjust="spacingAndGlyphs">60</text>
<text x="66.41" y="196.6" font-size="25.0" textLength="29.64" lengthAdjust="spacingAndGlyphs">70</text>
<text x="66.41" y="93.3" font-size="25.0" textLength="29.64" lengthAdjust="spacingAndGlyphs">80</text>
<text x="76.73" y="946.6" font-size="25.0" textLength="67.17" lengthAdjust="spacingAndGlyphs">03/01</text>
<text x="226.31" y="946.6" font-size="25.0" textLength="67.17" lengthAdjust="spacingAndGlyphs">03/02</text>
<text x="375.43" y="946.6" font-size="25.0" textLength="67.17" lengthAdjust="spacingAndGlyphs">03/03</text>
<text x="524.66" y="946.6" font-size="25.0" textLength="67.17" lengthAdjust="spacingAndGlyphs">03/04</text>
<text x="674.02" y="946.6" font-size="25.0" textLength="67.17" lengthAdjust="spacingAndGlyphs">03/05</text>
<text x="823.42" y="946.6" font-size="25.0" textLength="67.17" lengthAdjust="spacingAndGlyphs">03/06</text>
<text x="973.01" y="946.6" font-size="25.0" textLength="67.17" lengthAdjust="spacingAndGlyphs">03/07</text>
<text x="1122.02" y="946.6" font-size="25.0" textLength="67.17" lengthAdjust="spacingAndGlyphs">03/08</text>
<text x="1271.43" y="946.6" font-size="25.0" textLength="67.17" lengthAdjust="spacingAndGlyphs">03/09</text>
<text x="1420.72" y="946.6" font-size="25.0" textLength="67.17" lengthAdjust="spacingAndGlyphs">03/10</text>
<use href="#sq" x="1388.5" y="109.5" fill="#0000cd"/>
<use href="#ci" x="1388.5" y="137.5" fill="#006400"/>
<use href="#up" x="1388.5" y="165.5" fill="#ff0000"/>
<use href="#dn" x="1388.5" y="193.5" fill="#000000"/>
<use href="#di" x="1388.5" y="221.5" fill="#bebebe"/>
<use href="#pe" x="1388.5" y="249.5" fill="#87ceeb"/>
<use href="#st" x="1388.5" y="277.5" stroke="#ffa500"/>
<use href="#dn" x="1388.5" y="305.5" fill="#00ffff"/>
</svg></body></html>
